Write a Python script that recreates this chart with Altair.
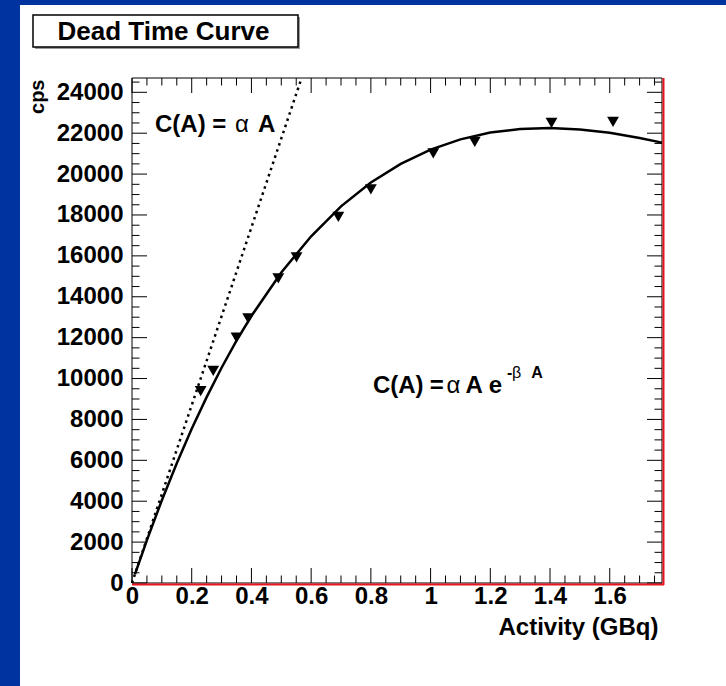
import altair as alt
import pandas as pd

# ---- data ----
act = [0.230, 0.272, 0.350, 0.389, 0.490, 0.551, 0.691, 0.800, 1.009, 1.148, 1.405, 1.611]
cps = [9390, 10370, 12000, 12940, 14900, 15930, 17910, 19250, 21010, 21580, 22510, 22560]

fit_act = [0.01, 0.05, 0.10, 0.15, 0.20, 0.25, 0.30, 0.35, 0.40, 0.50, 0.60, 0.70, 0.80,
           0.90, 1.00, 1.10, 1.20, 1.30, 1.40, 1.50, 1.60, 1.70, 1.775]
fit_cps = [430, 2100, 4050, 5860, 7540, 9090, 10530, 11850, 13060, 15190, 16960, 18420, 19590,
           20500, 21200, 21700, 22030, 22200, 22250, 22180, 22020, 21770, 21540]

lin_act = [0.0, 0.568]
lin_cps = [0, 24700]

x_major = [0, 0.2, 0.4, 0.6, 0.8, 1.0, 1.2, 1.4, 1.6]
x_minor = [0.05, 0.1, 0.15, 0.25, 0.3, 0.35, 0.45, 0.5, 0.55, 0.65, 0.7, 0.75, 0.85, 0.9, 0.95,
           1.05, 1.1, 1.15, 1.25, 1.3, 1.35, 1.45, 1.5, 1.55, 1.65, 1.7, 1.75]
y_major = [0, 2000, 4000, 6000, 8000, 10000, 12000, 14000, 16000, 18000, 20000, 22000, 24000]
y_minor = [500, 1000, 1500, 2500, 3000, 3500, 4500, 5000, 5500, 6500, 7000, 7500, 8500, 9000,
           9500, 10500, 11000, 11500, 12500, 13000, 13500, 14500, 15000, 15500, 16500, 17000,
           17500, 18500, 19000, 19500, 20500, 21000, 21500, 22500, 23000, 23500, 24500]

# annotation pieces (text, x, y, size)
bold_t = ["C(A) =", "A", "C(A)", "=", "A e", "-", "A"]
bold_x = [0.077, 0.422, 0.807, 0.997, 1.117, 1.256, 1.337]
bold_y = [22070, 22070, 9290, 9290, 9290, 10040, 10040]
bold_s = [24, 24, 24, 24, 24, 16, 16]
thin_t = ["α", "α", "β"]
thin_x = [0.345, 1.053, 1.273]
thin_y = [22070, 9290, 10040]
thin_s = [24, 24, 16]

W, H = 530, 505
FONT = "Liberation Sans"
XMAX, YMAX = 1.775, 24700

xs = alt.Scale(domain=[0, XMAX], nice=False, zero=False)
ys = alt.Scale(domain=[0, YMAX], nice=False, zero=False)

X_AX = alt.Axis(values=x_major, format="~g", labelFlush=False, labelOverlap=False,
                domain=False, ticks=False, grid=False,
                labelFont=FONT, labelFontWeight="bold", labelFontSize=24, labelColor="black",
                labelPadding=1, title="Activity (GBq)", titleFont=FONT, titleFontWeight="bold",
                titleFontSize=24, titleColor="black", titleX=526, titleY=44,
                titleAlign="right", titleBaseline="middle", zindex=1)
Y_AX = alt.Axis(values=y_major, format="d", labelFlush=False, labelOverlap=False,
                domain=False, ticks=False, grid=False,
                labelFont=FONT, labelFontWeight="bold", labelFontSize=24, labelColor="black",
                labelPadding=9, title="cps", titleFont=FONT, titleFontWeight="bold",
                titleFontSize=20, titleColor="black", titleX=-94.5, titleY=1,
                titleAlign="right", titleBaseline="middle", zindex=1)

one = pd.DataFrame({"k": [0]})

panel = alt.Chart(one).mark_rect(fill="white", stroke=None).encode(
    x=alt.value(20 - 132), x2=alt.value(726 - 132), y=alt.value(5 - 78), y2=alt.value(686 - 78))

shadow = alt.Chart(one).mark_rect(fill="#9a9a9a").encode(
    x=alt.value(-97), x2=alt.value(168), y=alt.value(-61), y2=alt.value(-29))
tbox = alt.Chart(one).mark_rect(fill="white", stroke="black", strokeWidth=1.5).encode(
    x=alt.value(-99), x2=alt.value(166), y=alt.value(-63), y2=alt.value(-31))
ttext = alt.Chart(one).mark_text(font=FONT, fontWeight="bold", fontSize=26, color="black",
                                 align="center", baseline="middle").encode(
    x=alt.value(31.5), y=alt.value(-46.5), text=alt.value("Dead Time Curve"))

frame = alt.Chart(one).mark_rect(fill=None, stroke="black", strokeWidth=1).encode(
    x=alt.value(0), x2=alt.value(W), y=alt.value(0), y2=alt.value(H))

def xticks(vals, ln):
    d = pd.DataFrame({"act": vals})
    b = alt.Chart(d).mark_rule(color="black", strokeWidth=1)
    bot = b.encode(x=alt.X("act:Q", scale=xs, axis=X_AX), y=alt.value(H), y2=alt.value(H - ln))
    top = b.encode(x=alt.X("act:Q", scale=xs, axis=X_AX), y=alt.value(0), y2=alt.value(ln))
    return [bot, top]

def yticks(vals, ln):
    d = pd.DataFrame({"cps": vals})
    b = alt.Chart(d).mark_rule(color="black", strokeWidth=1)
    lef = b.encode(y=alt.Y("cps:Q", scale=ys, axis=Y_AX), x=alt.value(0), x2=alt.value(ln))
    rig = b.encode(y=alt.Y("cps:Q", scale=ys, axis=Y_AX), x=alt.value(W), x2=alt.value(W - ln))
    return [lef, rig]

ticks = xticks(x_major, 15) + xticks(x_minor, 7.5) + yticks(y_major, 15) + yticks(y_minor, 7.5)

lin = alt.Chart(pd.DataFrame({"act": lin_act, "cps": lin_cps})).mark_line(
    color="black", strokeWidth=2.5, strokeDash=[2.5, 4]).encode(
    x=alt.X("act:Q", scale=xs, axis=X_AX), y=alt.Y("cps:Q", scale=ys, axis=Y_AX))

fit = alt.Chart(pd.DataFrame({"act": fit_act, "cps": fit_cps})).mark_line(
    color="black", strokeWidth=2.5).encode(
    x=alt.X("act:Q", scale=xs, axis=X_AX), y=alt.Y("cps:Q", scale=ys, axis=Y_AX))

pts = alt.Chart(pd.DataFrame({"act": act, "cps": cps})).mark_point(
    shape="triangle-down", filled=True, size=140, color="black", opacity=1).encode(
    x=alt.X("act:Q", scale=xs, axis=X_AX), y=alt.Y("cps:Q", scale=ys, axis=Y_AX))

btxt = alt.Chart(pd.DataFrame({"t": bold_t, "act": bold_x, "cps": bold_y, "s": bold_s})).mark_text(
    font=FONT, fontWeight="bold", color="black", align="left", baseline="alphabetic").encode(
    x=alt.X("act:Q", scale=xs, axis=X_AX), y=alt.Y("cps:Q", scale=ys, axis=Y_AX),
    text="t:N", size=alt.Size("s:Q", scale=None, legend=None))
ntxt = alt.Chart(pd.DataFrame({"t": thin_t, "act": thin_x, "cps": thin_y, "s": thin_s})).mark_text(
    font=FONT, fontWeight="normal", color="black", align="left", baseline="alphabetic").encode(
    x=alt.X("act:Q", scale=xs, axis=X_AX), y=alt.Y("cps:Q", scale=ys, axis=Y_AX),
    text="t:N", size=alt.Size("s:Q", scale=None, legend=None))

red_b = alt.Chart(one).mark_rule(color="#e8141e", strokeWidth=2).encode(
    x=alt.value(0), x2=alt.value(W + 2), y=alt.value(H + 1.5))
red_r = alt.Chart(one).mark_rule(color="#e8141e", strokeWidth=2).encode(
    x=alt.value(W + 1.5), y=alt.value(0), y2=alt.value(H + 2))

chart = alt.layer(panel, shadow, tbox, ttext, frame, *ticks, lin, fit, pts, btxt, ntxt,
                  red_b, red_r).properties(
    width=W, height=H,
    padding={"left": 132, "top": 78, "right": 64, "bottom": 103},
    autosize=alt.AutoSizeParams(type="none"),
).configure(background="#0033a0").configure_view(stroke=None)

chart.save("out.html", embed_options={"renderer": "svg", "actions": False})
